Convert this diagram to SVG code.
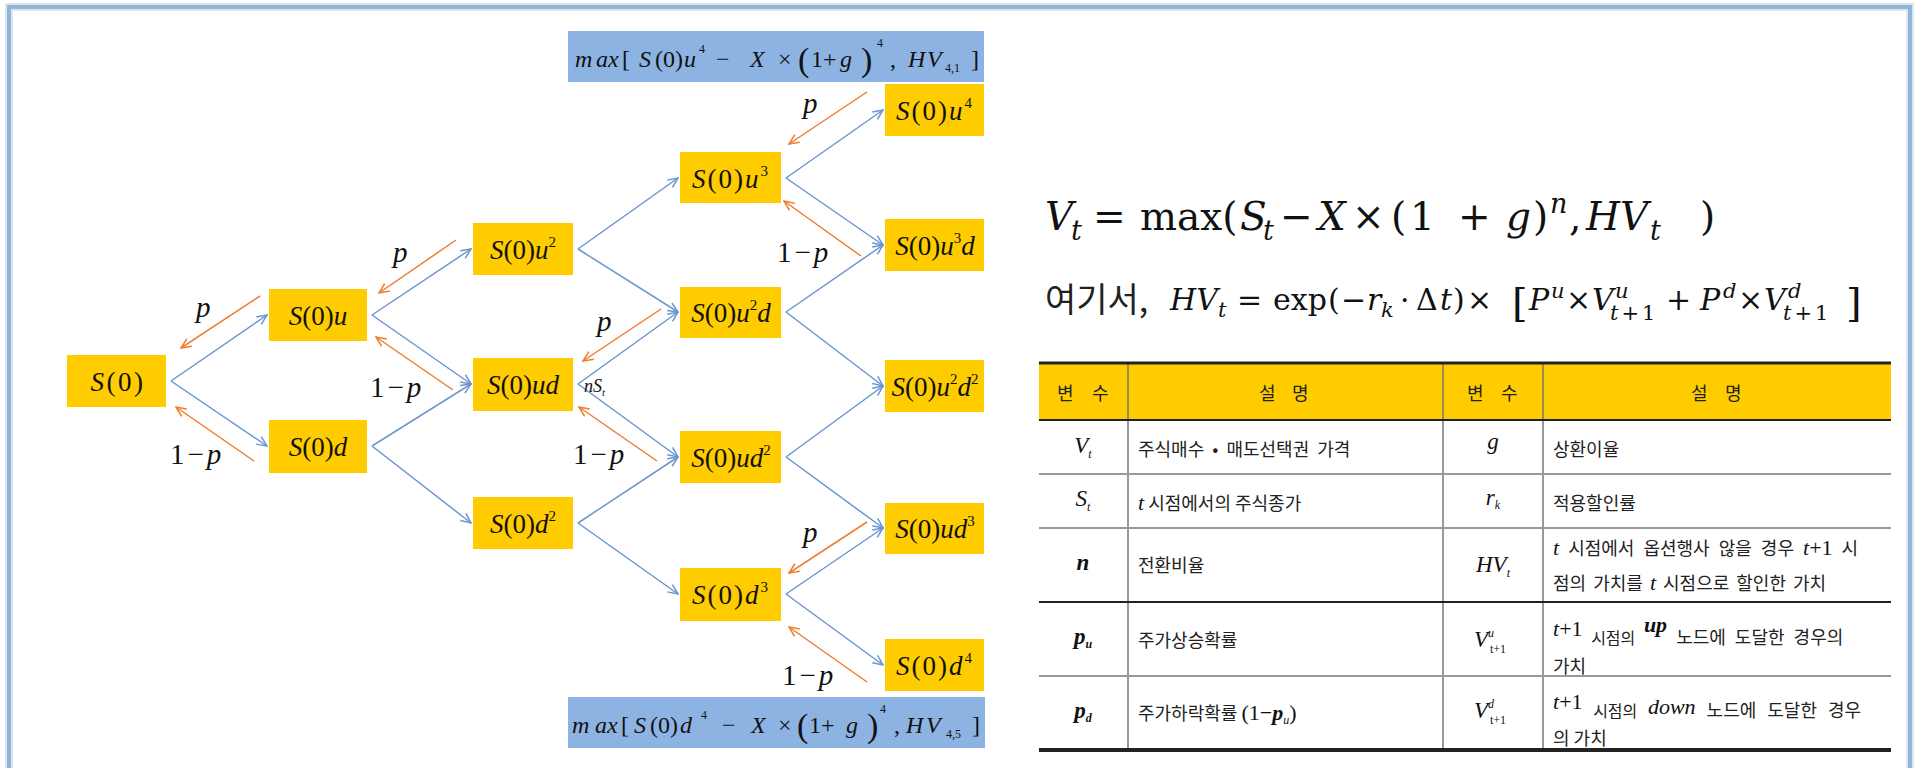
<svg xmlns="http://www.w3.org/2000/svg" width="1915" height="768" viewBox="0 0 1915 768">
<style>
.n{font-family:"Liberation Serif",serif;font-size:27px;fill:#111;text-anchor:middle}
.i{font-style:italic}
.s{font-size:15px}
.lb{font-family:"Liberation Serif",serif;font-size:29px;fill:#111}
.bx{font-family:"Liberation Serif",serif;font-size:24px;fill:#111}
.fm{font-family:"Liberation Serif",serif;fill:#111}
.dv{font-family:"DejaVu Serif",serif;fill:#111}
.kr{font-family:"Noto Sans CJK KR",sans-serif;font-size:18px;fill:#222}
.tv{font-family:"Liberation Serif",serif;font-size:23px;fill:#111;text-anchor:middle}
.node rect{fill:#FFCC00}
.vbox rect{fill:#8DB3E2}
.bl{stroke:#6A96CF;stroke-width:1.5;fill:none;marker-end:url(#ab)}
.or{stroke:#ED7D31;stroke-width:1.5;fill:none;marker-end:url(#ao)}
.tg{stroke:#999;stroke-width:2}
.tk{stroke:#222}
</style>
<defs>
<marker id="ab" viewBox="0 0 12 12" refX="11" refY="6" markerWidth="12" markerHeight="12" markerUnits="userSpaceOnUse" orient="auto"><path d="M1,1.5 L11,6 L1,10.5" fill="none" stroke="#6A96CF" stroke-width="1.5"/></marker>
<marker id="ao" viewBox="0 0 12 12" refX="11" refY="6" markerWidth="12" markerHeight="12" markerUnits="userSpaceOnUse" orient="auto"><path d="M1,1.5 L11,6 L1,10.5" fill="none" stroke="#ED7D31" stroke-width="1.5"/></marker>
</defs>
<rect width="1915" height="768" fill="#fff"/>
<rect x="9" y="7" width="1901" height="900" fill="none" stroke="#DCE6F2" stroke-width="8"/>
<rect x="9" y="7" width="1901" height="900" fill="none" stroke="#95B3D7" stroke-width="4"/>

<g id="connectors">
<line class="bl" x1="171" y1="381" x2="267" y2="315"/>
<line class="bl" x1="171" y1="381" x2="267" y2="446"/>
<line class="bl" x1="372" y1="315" x2="471" y2="249"/>
<line class="bl" x1="372" y1="315" x2="471" y2="384"/>
<line class="bl" x1="372" y1="446" x2="471" y2="384"/>
<line class="bl" x1="372" y1="446" x2="471" y2="523"/>
<line class="bl" x1="578" y1="249" x2="678" y2="178"/>
<line class="bl" x1="578" y1="249" x2="678" y2="312"/>
<line class="bl" x1="578" y1="384" x2="678" y2="312"/>
<line class="bl" x1="578" y1="384" x2="678" y2="457"/>
<line class="bl" x1="578" y1="523" x2="678" y2="457"/>
<line class="bl" x1="578" y1="523" x2="678" y2="594"/>
<line class="bl" x1="786" y1="178" x2="883" y2="110"/>
<line class="bl" x1="786" y1="178" x2="883" y2="245"/>
<line class="bl" x1="786" y1="312" x2="883" y2="245"/>
<line class="bl" x1="786" y1="312" x2="883" y2="386"/>
<line class="bl" x1="786" y1="457" x2="883" y2="386"/>
<line class="bl" x1="786" y1="457" x2="883" y2="528"/>
<line class="bl" x1="786" y1="594" x2="883" y2="528"/>
<line class="bl" x1="786" y1="594" x2="883" y2="665"/>
<line class="or" x1="260" y1="296" x2="181" y2="348"/>
<line class="or" x1="254" y1="461" x2="176" y2="407"/>
<line class="or" x1="456" y1="240" x2="379" y2="293"/>
<line class="or" x1="453" y1="390" x2="376" y2="337"/>
<line class="or" x1="661" y1="309" x2="583" y2="361"/>
<line class="or" x1="657" y1="461" x2="579" y2="407"/>
<line class="or" x1="867" y1="92" x2="789" y2="144"/>
<line class="or" x1="861" y1="256" x2="784" y2="201"/>
<line class="or" x1="867" y1="522" x2="789" y2="573"/>
<line class="or" x1="867" y1="682" x2="789" y2="627"/>
</g>

<g id="labels">
<text class="lb i" x="196" y="317">p</text>
<text class="lb" x="170" y="464" letter-spacing="3">1−<tspan class="i">p</tspan></text>
<text class="lb i" x="393" y="262">p</text>
<text class="lb" x="370" y="397" letter-spacing="3">1−<tspan class="i">p</tspan></text>
<text class="lb i" x="597" y="331">p</text>
<text class="lb" x="573" y="464" letter-spacing="3">1−<tspan class="i">p</tspan></text>
<text class="lb i" x="803" y="113">p</text>
<text class="lb" x="777" y="262" letter-spacing="3">1−<tspan class="i">p</tspan></text>
<text class="lb i" x="803" y="542">p</text>
<text class="lb" x="782" y="685" letter-spacing="3">1−<tspan class="i">p</tspan></text>
<text class="fm i" x="584" y="392" font-size="18">nS<tspan font-size="11" dy="4">t</tspan></text>
</g>

<g id="N0" class="node"><rect x="67" y="355" width="99" height="52"/><text class="n" x="118" y="391" letter-spacing="2.5"><tspan class="i">S</tspan>(0)</text></g>
<g id="N1u" class="node"><rect x="269" y="289" width="98" height="52"/><text class="n" x="318" y="325"><tspan class="i">S</tspan>(0)<tspan class="i">u</tspan></text></g>
<g id="N1d" class="node"><rect x="269" y="420" width="98" height="53"/><text class="n" x="318" y="456"><tspan class="i">S</tspan>(0)<tspan class="i">d</tspan></text></g>
<g id="N2uu" class="node"><rect x="473" y="223" width="100" height="52"/><text class="n" x="523" y="259"><tspan class="i">S</tspan>(0)<tspan class="i">u</tspan><tspan class="s" dy="-12">2</tspan></text></g>
<g id="N2ud" class="node"><rect x="473" y="358" width="100" height="53"/><text class="n" x="523" y="394"><tspan class="i">S</tspan>(0)<tspan class="i">ud</tspan></text></g>
<g id="N2dd" class="node"><rect x="473" y="497" width="100" height="52"/><text class="n" x="523" y="533"><tspan class="i">S</tspan>(0)<tspan class="i">d</tspan><tspan class="s" dy="-12">2</tspan></text></g>
<g id="N3uuu" class="node"><rect x="680" y="152" width="101" height="51"/><text class="n" x="731" y="188" letter-spacing="2"><tspan class="i">S</tspan>(0)<tspan class="i">u</tspan><tspan class="s" dy="-12">3</tspan></text></g>
<g id="N3uud" class="node"><rect x="680" y="287" width="101" height="51"/><text class="n" x="731" y="322"><tspan class="i">S</tspan>(0)<tspan class="i">u</tspan><tspan class="s" dy="-12">2</tspan><tspan class="i" dy="12">d</tspan></text></g>
<g id="N3udd" class="node"><rect x="680" y="431" width="101" height="52"/><text class="n" x="731" y="467"><tspan class="i">S</tspan>(0)<tspan class="i">ud</tspan><tspan class="s" dy="-12">2</tspan></text></g>
<g id="N3ddd" class="node"><rect x="680" y="568" width="101" height="53"/><text class="n" x="731" y="604" letter-spacing="2"><tspan class="i">S</tspan>(0)<tspan class="i">d</tspan><tspan class="s" dy="-12">3</tspan></text></g>
<g id="N4u4" class="node"><rect x="885" y="84" width="99" height="52"/><text class="n" x="935" y="120" letter-spacing="2"><tspan class="i">S</tspan>(0)<tspan class="i">u</tspan><tspan class="s" dy="-12">4</tspan></text></g>
<g id="N4u3d" class="node"><rect x="885" y="219" width="99" height="52"/><text class="n" x="935" y="255"><tspan class="i">S</tspan>(0)<tspan class="i">u</tspan><tspan class="s" dy="-12">3</tspan><tspan class="i" dy="12">d</tspan></text></g>
<g id="N4u2d2" class="node"><rect x="885" y="360" width="99" height="52"/><text class="n" x="935" y="396"><tspan class="i">S</tspan>(0)<tspan class="i">u</tspan><tspan class="s" dy="-12">2</tspan><tspan class="i" dy="12">d</tspan><tspan class="s" dy="-12">2</tspan></text></g>
<g id="N4ud3" class="node"><rect x="885" y="503" width="99" height="51"/><text class="n" x="935" y="538"><tspan class="i">S</tspan>(0)<tspan class="i">ud</tspan><tspan class="s" dy="-12">3</tspan></text></g>
<g id="N4d4" class="node"><rect x="885" y="639" width="99" height="52"/><text class="n" x="935" y="675" letter-spacing="2"><tspan class="i">S</tspan>(0)<tspan class="i">d</tspan><tspan class="s" dy="-12">4</tspan></text></g>

<g id="topBox" class="vbox"><rect x="568" y="31" width="416" height="51"/>
<text class="bx"><tspan class="i" x="575" y="67">m</tspan><tspan class="i" x="596" y="67">ax</tspan><tspan x="622" y="67">[</tspan><tspan class="i" x="639" y="67">S</tspan><tspan x="655" y="67">(0)</tspan><tspan class="i" x="684" y="67">u</tspan><tspan x="699" y="53" font-size="12">4</tspan><tspan x="716" y="67">−</tspan><tspan class="i" x="750" y="67">X</tspan><tspan x="778" y="67">×</tspan><tspan x="798" y="71" font-size="34">(</tspan><tspan x="811" y="67">1+</tspan><tspan class="i" x="840" y="67">g</tspan><tspan x="861" y="71" font-size="34">)</tspan><tspan x="877" y="47" font-size="12">4</tspan><tspan x="890" y="67">,</tspan><tspan class="i" x="908" y="67">H</tspan><tspan class="i" x="927" y="67">V</tspan><tspan x="945" y="72" font-size="12">4,1</tspan><tspan x="971" y="67">]</tspan></text></g>
<g id="botBox" class="vbox"><rect x="568" y="697" width="417" height="51"/>
<text class="bx"><tspan class="i" x="572" y="733">m</tspan><tspan class="i" x="595" y="733">ax</tspan><tspan x="621" y="733">[</tspan><tspan class="i" x="634" y="733">S</tspan><tspan x="650" y="733">(0)</tspan><tspan class="i" x="680" y="733">d</tspan><tspan x="701" y="719" font-size="12">4</tspan><tspan x="722" y="733">−</tspan><tspan class="i" x="751" y="733">X</tspan><tspan x="778" y="733">×</tspan><tspan x="797" y="737" font-size="34">(</tspan><tspan x="809" y="733">1+</tspan><tspan class="i" x="846" y="733">g</tspan><tspan x="867" y="737" font-size="34">)</tspan><tspan x="880" y="713" font-size="12">4</tspan><tspan x="894" y="733">,</tspan><tspan class="i" x="906" y="733">H</tspan><tspan class="i" x="926" y="733">V</tspan><tspan x="946" y="738" font-size="12">4,5</tspan><tspan x="972" y="733">]</tspan></text></g>

<g id="formula">
<text class="dv" font-size="39"><tspan class="i" x="1045" y="230">V</tspan><tspan class="i" x="1071" y="240" font-size="27">t</tspan><tspan x="1093" y="230">=</tspan><tspan x="1140" y="230">max(</tspan><tspan class="i" x="1240" y="230">S</tspan><tspan class="i" x="1263" y="240" font-size="27">t</tspan><tspan x="1280" y="230">−</tspan><tspan class="i" x="1318" y="230">X</tspan><tspan x="1352" y="230">×</tspan><tspan x="1391" y="230">(</tspan><tspan x="1410" y="230">1</tspan><tspan x="1458" y="230">+</tspan><tspan class="i" x="1506" y="230">g</tspan><tspan x="1533" y="230">)</tspan><tspan class="i" x="1550" y="213" font-size="27">n</tspan><tspan x="1569" y="230">,</tspan><tspan class="i" x="1586" y="230">HV</tspan><tspan class="i" x="1650" y="240" font-size="27">t</tspan><tspan x="1700" y="230">)</tspan></text>
<text class="kr" x="1045" y="312" style="font-size:34px">여기서,</text>
<text class="dv" font-size="30"><tspan class="i" x="1170" y="310">HV</tspan><tspan class="i" x="1218" y="317" font-size="21">t</tspan><tspan x="1237" y="310">=</tspan><tspan x="1273" y="310">exp</tspan><tspan x="1328" y="310">(</tspan><tspan x="1341" y="310">−</tspan><tspan class="i" x="1367" y="310">r</tspan><tspan class="i" x="1381" y="317" font-size="21">k</tspan><tspan x="1400" y="310">·</tspan><tspan x="1416" y="310">Δ</tspan><tspan class="i" x="1440" y="310">t</tspan><tspan x="1453" y="310">)</tspan><tspan x="1467" y="310">×</tspan><tspan x="1512" y="316" font-size="40">[</tspan><tspan class="i" x="1529" y="310">P</tspan><tspan class="i" x="1551" y="298" font-size="21">u</tspan><tspan x="1566" y="310">×</tspan><tspan class="i" x="1592" y="310">V</tspan><tspan class="i" x="1615" y="298" font-size="21">u</tspan><tspan x="1610" y="320" font-size="21" letter-spacing="3"><tspan class="i">t</tspan>+1</tspan><tspan x="1666" y="310">+</tspan><tspan class="i" x="1700" y="310">P</tspan><tspan class="i" x="1723" y="298" font-size="21">d</tspan><tspan x="1738" y="310">×</tspan><tspan class="i" x="1764" y="310">V</tspan><tspan class="i" x="1788" y="298" font-size="21">d</tspan><tspan x="1783" y="320" font-size="21" letter-spacing="3"><tspan class="i">t</tspan>+1</tspan><tspan x="1846" y="316" font-size="40">]</tspan></text>
</g>

<g id="table">
<rect x="1039" y="363" width="852" height="57" fill="#FFCC00"/>
<line x1="1128" y1="363" x2="1128" y2="750" stroke="#777" stroke-width="1.5"/>
<line x1="1443" y1="363" x2="1443" y2="750" stroke="#777" stroke-width="1.5"/>
<line x1="1543" y1="363" x2="1543" y2="750" stroke="#777" stroke-width="1.5"/>
<line x1="1039" y1="363" x2="1891" y2="363" class="tk" stroke-width="3"/>
<line x1="1039" y1="420" x2="1891" y2="420" class="tk" stroke-width="2"/>
<line x1="1039" y1="474" x2="1891" y2="474" class="tg"/>
<line x1="1039" y1="528" x2="1891" y2="528" class="tg"/>
<line x1="1039" y1="602" x2="1891" y2="602" class="tk" stroke-width="2"/>
<line x1="1039" y1="676" x2="1891" y2="676" class="tg"/>
<line x1="1039" y1="750" x2="1891" y2="750" class="tk" stroke-width="4"/>
<text class="kr"><tspan x="1057" y="400">변</tspan><tspan x="1092" y="400">수</tspan><tspan x="1259" y="400">설</tspan><tspan x="1292" y="400">명</tspan><tspan x="1467" y="400">변</tspan><tspan x="1501" y="400">수</tspan><tspan x="1691" y="400">설</tspan><tspan x="1725" y="400">명</tspan></text>
<text class="tv i" x="1083" y="453">V<tspan font-size="12" dy="5">t</tspan></text>
<text class="kr" x="1138" y="456" word-spacing="4">주식매수 • 매도선택권  가격</text>
<text class="tv i" x="1493" y="449">g</text>
<text class="kr" x="1553" y="456">상환이율</text>
<text class="tv i" x="1083" y="506">S<tspan font-size="12" dy="5">t</tspan></text>
<text class="kr" x="1138" y="510"><tspan class="fm i" font-size="22">t</tspan> 시점에서의 주식종가</text>
<text class="tv i" x="1493" y="505">r<tspan font-size="12" dy="4">k</tspan></text>
<text class="kr" x="1553" y="510">적용할인률</text>
<text class="tv i" x="1083" y="570" font-weight="bold">n</text>
<text class="kr" x="1138" y="572">전환비율</text>
<text class="tv i" x="1493" y="572">HV<tspan font-size="12" dy="5">t</tspan></text>
<text class="kr" x="1553" y="555" word-spacing="5"><tspan class="fm i" font-size="22">t</tspan> 시점에서 옵션행사 않을 경우 <tspan class="fm i" font-size="22">t</tspan><tspan class="fm" font-size="22">+1</tspan> 시</text>
<text class="kr" x="1553" y="590" word-spacing="3">점의 가치를 <tspan class="fm i" font-size="22">t</tspan> 시점으로 할인한 가치</text>
<text class="tv i" x="1083" y="644" font-weight="bold">p<tspan font-size="12" dy="4">u</tspan></text>
<text class="kr" x="1138" y="647">주가상승확률</text>
<text class="tv i" x="1490" y="647">V<tspan font-size="12" dy="-10">u</tspan><tspan class="fm" font-size="12" dx="-4" dy="16" font-style="normal">t+1</tspan></text>
<text class="kr" x="1553" y="644" word-spacing="5"><tspan class="fm" font-size="22" dy="-8"><tspan class="i">t</tspan>+1</tspan><tspan font-size="16" dy="8"> 시점의 </tspan><tspan class="fm i" font-size="22" font-weight="bold" dy="-12">up</tspan><tspan dy="12"> 노드에 도달한 경우의</tspan></text>
<text class="kr" x="1553" y="673">가치</text>
<text class="tv i" x="1083" y="718" font-weight="bold">p<tspan font-size="12" dy="4">d</tspan></text>
<text class="kr" x="1138" y="720">주가하락확률 <tspan class="fm" font-size="22">(1−<tspan class="i" font-weight="bold">p</tspan><tspan class="i" font-size="12" dy="4">u</tspan><tspan dy="-4">)</tspan></tspan></text>
<text class="tv i" x="1490" y="718">V<tspan font-size="12" dy="-10">d</tspan><tspan class="fm" font-size="12" dx="-4" dy="16" font-style="normal">t+1</tspan></text>
<text class="kr" x="1553" y="717" word-spacing="7"><tspan class="fm" font-size="22" dy="-8"><tspan class="i">t</tspan>+1</tspan><tspan font-size="16" dy="8"> 시점의 </tspan><tspan class="fm i" font-size="22" dy="-3">down</tspan><tspan dy="3"> 노드에 도달한 경우</tspan></text>
<text class="kr" x="1553" y="745">의 가치</text>
</g>
</svg>
